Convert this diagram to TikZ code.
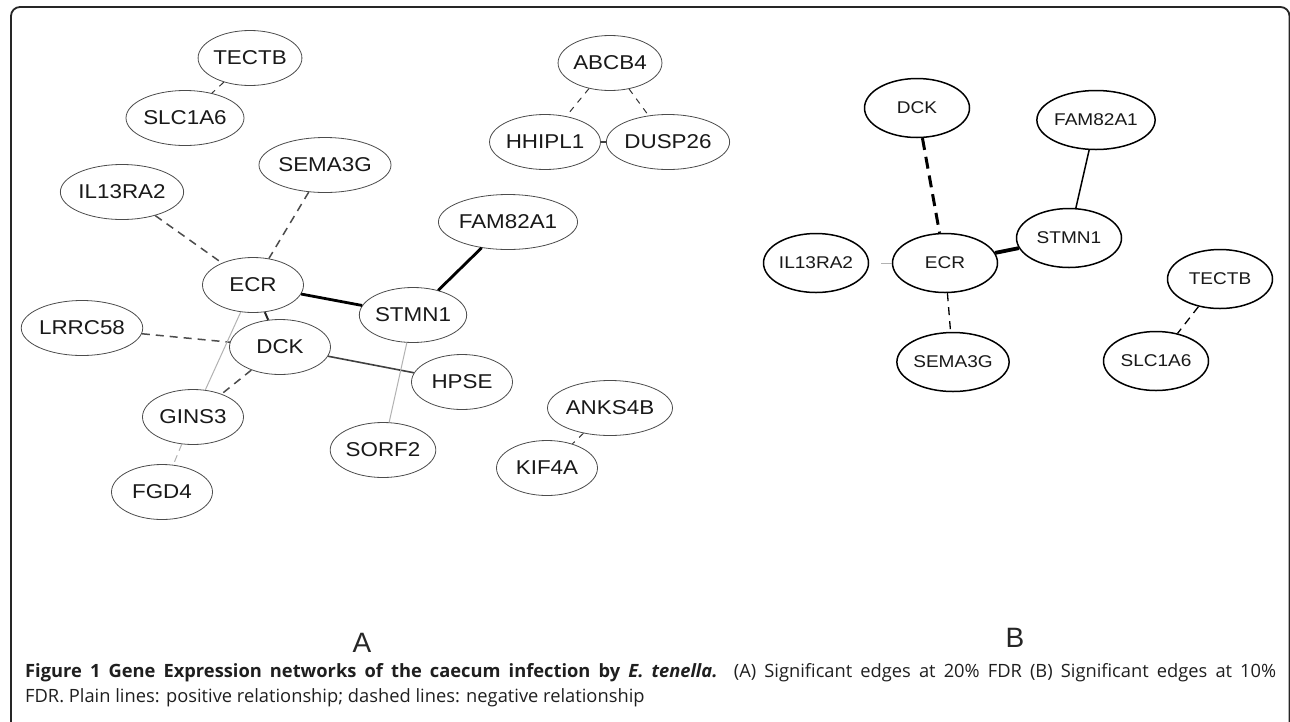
\documentclass[tikz,border=0pt]{standalone}
\usepackage{fontspec}
\usepackage{graphicx}
\setmainfont{Liberation Sans}
\newfontfamily\capfont{Open Sans}
\usetikzlibrary{shapes.geometric}
\newcommand\gL[1]{\scalebox{1.12}[1]{#1}}
\newcommand\gR[1]{\scalebox{1.12}[1]{#1}}
\tikzset{
  lnode/.style={ellipse, draw=black!70, line width=0.8pt, minimum width=101pt, minimum height=55pt, inner sep=0pt, font=\fontsize{20}{24}\selectfont, text=black!90},
  rnode/.style={ellipse, draw=black, line width=1.5pt, minimum width=105pt, minimum height=59pt, inner sep=0pt, font=\fontsize{17}{20}\selectfont, text=black!90},
  negL/.style={draw=black!70, line width=1.5pt, dash pattern=on 8pt off 6pt},
  negLt/.style={draw=black!80, line width=1pt, dash pattern=on 6pt off 6pt},
  posL/.style={draw=black!75, line width=1.6pt},
  posLt/.style={draw=black!75, line width=1.1pt},
  strongL/.style={draw=black, line width=2.8pt},
  weakL/.style={draw=black!30, line width=1pt},
  weakLd/.style={draw=black!30, line width=1pt, dash pattern=on 7pt off 5pt},
  negRk/.style={draw=black, line width=3pt, dash pattern=on 12pt off 7pt},
  negR/.style={draw=black, line width=1.3pt, dash pattern=on 8pt off 6pt},
  posR/.style={draw=black, line width=1.5pt},
  strongR/.style={draw=black, line width=3.8pt},
  weakR/.style={draw=black!30, line width=1pt},
  panel/.style={font=\fontsize{28}{30}\selectfont, text=black!85, anchor=base, inner sep=0pt},
  capline/.style={anchor=base west, inner sep=0pt, text=black!88, font=\capfont\fontsize{18.3}{22}\selectfont}
}
\begin{document}
\begin{tikzpicture}[x=1pt, y=-1pt]
\useasboundingbox (0,0) rectangle (1290,721);
\fill[white] (0,0) rectangle (1290,721);
\draw[line width=1.8pt, black!85, rounded corners=9pt] (11,726) -- (11,7) -- (1289.5,7) -- (1289.5,726);

% ---- panel A ----
\node[lnode] (tL)   at (250,58)  {\gL{TECTB}};
\node[lnode] (sL)   at (185,118) {\gL{SLC1A6}};
\node[lnode] (semL) at (325,165) {\gL{SEMA3G}};
\node[lnode] (ilL)  at (122,192) {\gL{IL13RA2}};
\node[lnode] (ecrL) at (253,285) {\gL{ECR}};
\node[lnode] (lrL)  at (82,328)  {\gL{LRRC58}};
\node[lnode] (dckL) at (280,347) {\gL{DCK}};
\node[lnode] (stL)  at (413,315) {\gL{STMN1}};
\node[lnode] (giL)  at (193,417) {\gL{GINS3}};
\node[lnode] (fgL)  at (162,492) {\gL{FGD4}};
\node[lnode] (soL)  at (383,450) {\gL{SORF2}};
\node[lnode] (hpL)  at (462,382) {\gL{HPSE}};
\node[lnode] (faL)  at (508,222) {\gL{FAM82A1}};
\node[lnode] (abL)  at (610,63)  {\gL{ABCB4}};
\node[lnode] (hhL)  at (545,142) {\gL{HHIPL1}};
\node[lnode] (duL)  at (668,142) {\gL{DUSP26}};
\node[lnode] (anL)  at (610,408) {\gL{ANKS4B}};
\node[lnode] (kiL)  at (547,468) {\gL{KIF4A}};

\draw[negLt] (tL) -- (sL);
\draw[negL] (ilL) -- (ecrL);
\draw[negL] (semL) -- (ecrL);
\draw[strongL] (ecrL) -- (stL);
\draw[strongL] (stL) -- (faL);
\draw[draw=black!85, line width=2pt] (ecrL) -- (dckL);
\draw[negL] (lrL) -- (dckL);
\draw[negL] (dckL) -- (giL);
\draw[weakL] (ecrL) -- (giL);
\draw[weakLd] (giL) -- (fgL);
\draw[posL] (dckL) -- (hpL);
\draw[weakL] (stL) -- (soL);
\draw[negLt] (abL) -- (hhL);
\draw[negLt] (abL) -- (duL);
\draw[posLt] (hhL) -- (duL);
\draw[negLt] (anL) -- (kiL);

% ---- panel B ----
\node[rnode] (dckR) at (917,108)  {\gR{DCK}};
\node[rnode] (faR)  at (1096,120) {\gR{FAM82A1}};
\node[rnode] (stR)  at (1069,238) {\gR{STMN1}};
\node[rnode] (ilR)  at (816,263)  {\gR{IL13RA2}};
\node[rnode] (ecrR) at (945,263)  {\gR{ECR}};
\node[rnode] (semR) at (953,362)  {\gR{SEMA3G}};
\node[rnode] (tR)   at (1220,279) {\gR{TECTB}};
\node[rnode] (sR)   at (1156,361) {\gR{SLC1A6}};

\draw[negRk] (dckR) -- (ecrR);
\draw[posR] (faR) -- (stR);
\draw[strongR] (ecrR) -- (stR);
\draw[weakR, shorten <=12pt] (ilR) -- (ecrR);
\draw[negR] (ecrR) -- (semR);
\draw[negR] (tR) -- (sR);

% ---- labels ----
\node[panel] (labA) at (362,652) {A};
\node[panel] (labB) at (1015,647) {B};

\node[capline] (cap1) at (25,677) {\makebox[1251pt][s]{\textbf{Figure 1 Gene Expression networks of the caecum infection by \textit{E. tenella.}} (A) Significant edges at 20\% FDR (B) Significant edges at 10\%}};
\node[capline] (cap2) at (25,702) {FDR. Plain lines: positive relationship; dashed lines: negative relationship};
\end{tikzpicture}
\end{document}
